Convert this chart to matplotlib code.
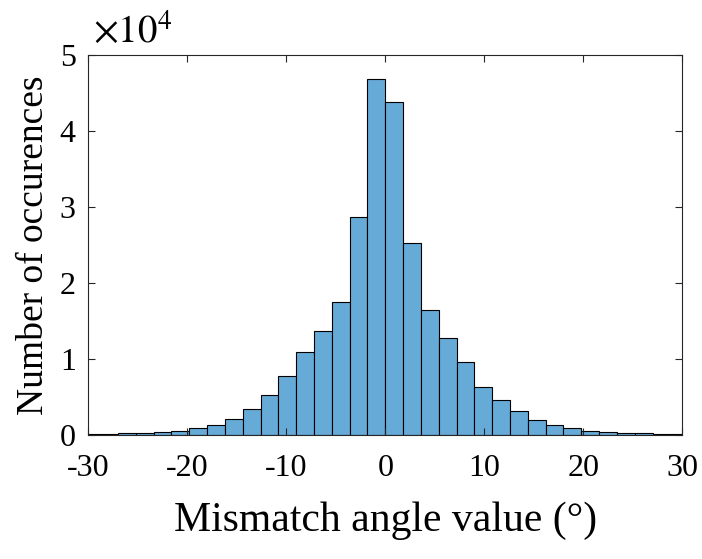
import numpy as np
import matplotlib
matplotlib.use("Agg")
import matplotlib.pyplot as plt

plt.rcParams.update({"font.family": ["Liberation Serif", "DejaVu Serif"],
                     "mathtext.fontset": "stix"})

# bin edges: width 1.8, from -30.6 to 30.6
bin_left = np.arange(-30.6, 30.6 - 1e-9, 1.8)
counts = [150, 200, 280, 330, 460, 640, 950, 1400, 2150, 3500,
          5300, 7800, 10900, 13750, 17500, 28700, 46800,
          43800, 25300, 16500, 12800, 9600, 6400, 4600, 3200,
          2000, 1340, 950, 630, 500, 370, 280, 200, 150]
bin_width = 1.8
xticks = [-30, -20, -10, 0, 10, 20, 30]
yticks = [0, 1, 2, 3, 4, 5]

AX = "#262626"
fig = plt.figure(figsize=(7.02, 5.59), dpi=100)
ax = fig.add_axes([0.1258, 0.221, 0.846, 0.681])
ax.bar(bin_left, np.array(counts) / 1e4, width=bin_width, align="edge",
       color="#66AAD7", edgecolor="black", linewidth=0.8)
ax.set_xlim(-30, 30)
ax.set_ylim(0, 5)
ax.set_xticks(xticks)
ax.set_xticklabels([str(t) for t in xticks])
ax.set_yticks(yticks)
ax.tick_params(direction="in", length=5, width=0.8, colors=AX, labelsize=23,
               top=True, right=True, labelcolor="black")
ax.tick_params(axis="x", pad=13)
ax.tick_params(axis="y", pad=9)
for s in ax.spines.values():
    s.set_color(AX); s.set_linewidth(0.8)
ax.set_xlabel("Mismatch angle value (°)", fontsize=30, labelpad=14)
ax.set_ylabel("Number of occurences", fontsize=27, labelpad=6)
ax.text(0.008, 1.032, r"$\times10^4$", transform=ax.transAxes, fontsize=28,
        ha="left", va="baseline")
fig.savefig("out.png", dpi=100)
